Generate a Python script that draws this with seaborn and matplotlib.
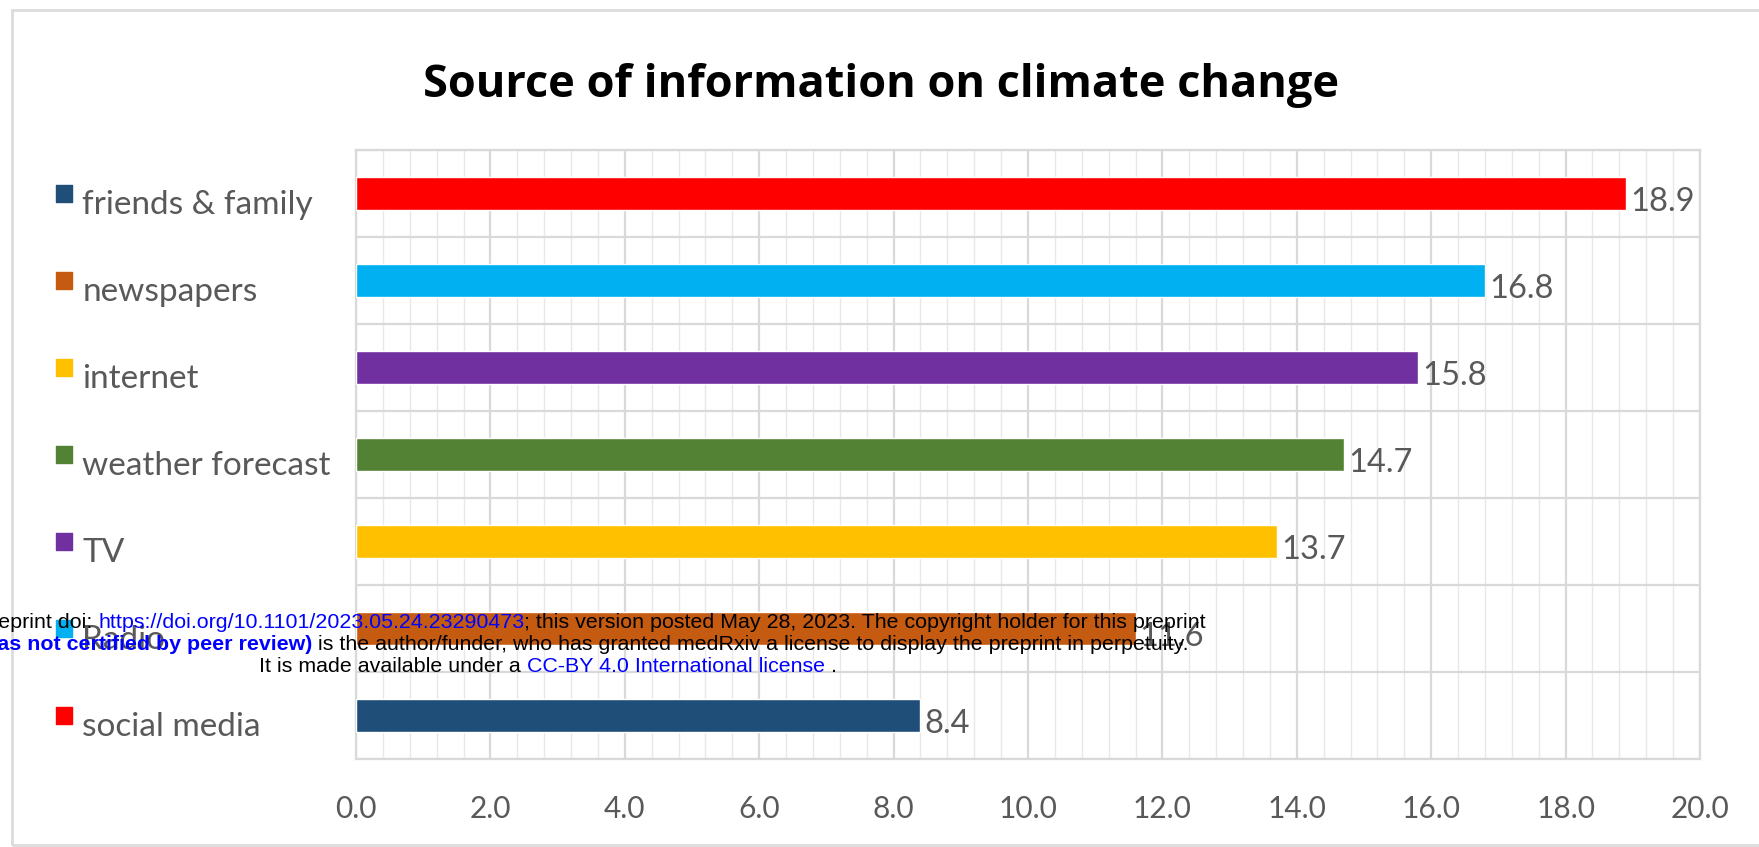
import matplotlib
matplotlib.use("Agg")
import matplotlib.pyplot as plt
import matplotlib.transforms as mtransforms
import seaborn as sns
import pandas as pd
from matplotlib.ticker import MultipleLocator, FormatStrFormatter
from matplotlib.offsetbox import TextArea, HPacker, AnnotationBbox
from matplotlib.patches import Rectangle

# --- data ---
sources = ["friends & family", "newspapers", "internet", "weather forecast",
           "TV", "Radio", "social media"]
percent = [18.9, 16.8, 15.8, 14.7, 13.7, 11.6, 8.4]
bar_colors = ["#FF0000", "#00B0F0", "#7030A0", "#548235", "#FFC000", "#C55A11", "#1F4E79"]
# the legend keys in the original come out in reverse order
key_colors = bar_colors[::-1]
xtick_values = [0, 2, 4, 6, 8, 10, 12, 14, 16, 18, 20]

df = pd.DataFrame({"source": sources, "percent": percent})

sns.set_theme(style="white")
grey = "#595959"
grid_major = "#D9D9D9"
grid_minor = "#E8E8E8"

fig = plt.figure(figsize=(17.59, 8.47), dpi=100)
W, H = 1759, 847
ax = fig.add_axes([356 / W, 1 - 759 / H, (1700 - 356) / W, (759 - 150) / H])

sns.barplot(data=df, y="source", x="percent", hue="source", palette=bar_colors,
            order=sources, hue_order=sources, orient="h", width=0.38,
            legend=False, saturation=1, ax=ax, zorder=3)

# value labels, sitting a little below the bar centre like Excel does
for cont in ax.containers:
    labels = ax.bar_label(cont, fmt="%.1f", padding=3, color=grey, fontsize=23.5,
                          family="Lato")
    for t in labels:
        t.xyann = (t.xyann[0], -6)

# x axis
ax.set_xlim(0, 20)
ax.set_xticks(xtick_values)
ax.xaxis.set_major_formatter(FormatStrFormatter("%.1f"))
ax.xaxis.set_minor_locator(MultipleLocator(0.4))
ax.tick_params(axis="x", which="both", length=0, pad=26, labelsize=21.5, labelcolor=grey)
for lab in ax.get_xticklabels():
    lab.set_family("Lato")

# y axis: labels left aligned like the Excel legend
ax.set_ylim(len(sources) - 0.5, -0.5)
ax.set_yticks(range(len(sources)))
ax.set_yticks([i - 0.5 for i in range(len(sources) + 1)], minor=True)
ax.set_yticklabels(sources, ha="left", fontsize=24, color=grey, family="Lato")
ax.tick_params(axis="y", which="both", length=0, pad=197)
shift = mtransforms.ScaledTranslation(0, -6 / 72, fig.dpi_scale_trans)
for lab in ax.get_yticklabels():
    lab.set_transform(lab.get_transform() + shift)
ax.set_xlabel("")
ax.set_ylabel("")

# grid
ax.grid(True, axis="x", which="major", color=grid_major, lw=1.6, zorder=0)
ax.grid(True, axis="x", which="minor", color=grid_minor, lw=1.0, zorder=0)
ax.grid(True, axis="y", which="minor", color=grid_major, lw=1.6, zorder=0)
ax.grid(False, axis="y", which="major")
ax.set_axisbelow(True)
for sp in ax.spines.values():
    sp.set_visible(True)
    sp.set_color(grid_major)
    sp.set_linewidth(1.6)

# legend keys
ax.scatter([-0.2173] * len(sources), range(len(sources)), marker="s", s=140,
           c=key_colors, transform=ax.get_yaxis_transform(), clip_on=False, zorder=4)

# title
fig.text(881 / W, 1 - 85 / H, "Source of information on climate change",
         ha="center", va="center", fontsize=32.5, fontweight="bold",
         family="Open Sans", color="black")

# outer frame
fig.patches.append(Rectangle((12 / W, 2 / H), 1.2, 1 - 12 / H, transform=fig.transFigure,
                             fill=False, edgecolor="#DCDCDC", lw=2))

# medRxiv stamp over the figure
blue = "#0000FF"
stamp = [
    (622, [("medRxiv preprint doi: ", "black", "normal"),
           ("https://doi.org/10.1101/2023.05.24.23290473", blue, "normal"),
           ("; this version posted May 28, 2023. The copyright holder for this preprint", "black", "normal")]),
    (644, [("(which was not certified by peer review)", blue, "bold"),
           (" is the author/funder, who has granted medRxiv a license to display the preprint in perpetuity.", "black", "normal")]),
    (666, [("It is made available under a ", "black", "normal"),
           ("CC-BY 4.0 International license", blue, "normal"),
           (" .", "black", "normal")]),
]
for ypix, parts in stamp:
    boxes = [TextArea(t, textprops=dict(color=c, fontweight=w, fontsize=15.4,
                                        family="Liberation Sans")) for t, c, w in parts]
    pack = HPacker(children=boxes, pad=0, sep=0, align="baseline")
    ab = AnnotationBbox(pack, (548, H - ypix), xycoords="figure pixels",
                        frameon=False, box_alignment=(0.5, 0.5), zorder=10)
    fig.add_artist(ab)

fig.savefig("out.png", dpi=100, facecolor="white")
